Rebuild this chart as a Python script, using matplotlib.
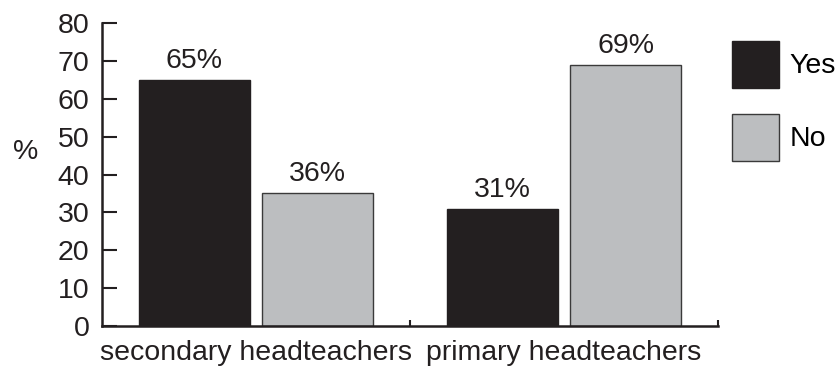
import matplotlib.pyplot as plt
from matplotlib.patches import Patch
import numpy as np

plt.rcParams['font.family'] = ['Liberation Sans', 'DejaVu Sans']

groups = ["secondary headteachers", "primary headteachers"]
series = ["Yes", "No"]
yes_vals = [65, 31]
no_vals = [35, 69]
yes_labels = ["65%", "31%"]
no_labels = ["36%", "69%"]

dark = "#231f20"
grey = "#bcbec0"
edge = "#3a3a3a"
fs = 20.5

fig = plt.figure(figsize=(8.39, 3.69), dpi=100)
ax = fig.add_axes([0.1216, 0.1165, 0.8558 - 0.1216, 0.9377 - 0.1165])

x = np.arange(len(groups))
w = 0.36
b1 = ax.bar(x + 0.3, yes_vals, w, color=dark, edgecolor=dark, linewidth=1)
b2 = ax.bar(x + 0.7, no_vals, w, color=grey, edgecolor=edge, linewidth=1)

for bars, labs in [(b1, yes_labels), (b2, no_labels)]:
    for b, t in zip(bars, labs):
        ax.text(b.get_x() + b.get_width() / 2, b.get_height() + 1.6, t,
                ha="center", va="bottom", fontsize=fs, color="#231f20")

ax.set_xlim(0, 2)
ax.set_ylim(0, 80)
ax.set_yticks(np.arange(0, 81, 10))
ax.tick_params(axis="y", direction="in", length=11, width=1.5, labelsize=fs, pad=9, colors="#231f20")
ax.set_xticks(x + 0.5)
ax.set_xticklabels(groups)
ax.tick_params(axis="x", which="major", length=0, labelsize=fs, pad=10, colors="#231f20")
ax.set_xticks([1, 2], minor=True)
ax.tick_params(axis="x", which="minor", direction="in", length=4, width=1.5, color="#231f20")

for s in ["top", "right"]:
    ax.spines[s].set_visible(False)
for s in ["left", "bottom"]:
    ax.spines[s].set_linewidth(1.8)
    ax.spines[s].set_color("#231f20")

fig.text(0.030, 0.588, "%", fontsize=fs, ha="center", va="center", color="#231f20")

handles = [Patch(facecolor=dark, edgecolor=dark), Patch(facecolor=grey, edgecolor=edge)]
fig.legend(handles, series, loc="upper left", bbox_to_anchor=(0.873, 0.89),
           frameon=False, fontsize=fs, handlelength=1.65, handleheight=2.16,
           handletextpad=0.35, labelspacing=0.93, borderpad=0, borderaxespad=0)

fig.savefig("out.png", dpi=100)
